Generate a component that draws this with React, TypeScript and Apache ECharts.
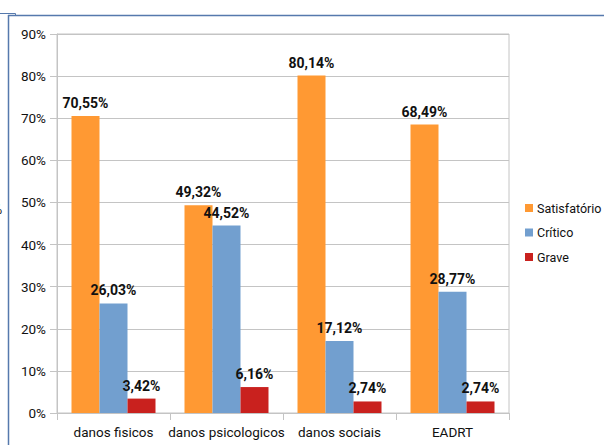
import React, { useEffect, useRef } from "react";
import * as echarts from "echarts";

const categories = ["danos fisicos", "danos psicologicos", "danos sociais", "EADRT"];
const seriesNames = ["Satisfatório", "Crítico", "Grave"];
const satisfatorio = [70.55, 49.32, 80.14, 68.49];
const critico = [26.03, 44.52, 17.12, 28.77];
const grave = [3.42, 6.16, 2.74, 2.74];
const colors = ["#ff9933", "#729fcf", "#c9211e"];
const yTicks = { min: 0, max: 90, interval: 10 };

const FONT = "Roboto, 'Liberation Sans', sans-serif";

export default function App() {
  const ref = useRef<HTMLDivElement>(null);
  useEffect(() => {
    if (!ref.current) return;
    const chart = echarts.init(ref.current, undefined, { renderer: "svg" });
    const values = [satisfatorio, critico, grave];
    const fmt = (v: number) => v.toFixed(2).replace(".", ",") + "%";
    chart.setOption({
      animation: false,
      backgroundColor: "#ffffff",
      textStyle: { fontFamily: FONT },
      grid: {
        left: 57,
        top: 34,
        width: 452,
        height: 379,
        show: true,
        borderColor: "#c4c4c4",
        borderWidth: 1,
      },
      legend: {
        orient: "vertical",
        left: 520,
        top: 195,
        padding: 5,
        itemWidth: 8,
        itemHeight: 8,
        itemGap: 8.5,
        icon: "rect",
        data: seriesNames,
        textStyle: { fontFamily: FONT, fontSize: 12.5, color: "#111", lineHeight: 16, padding: [0, 0, 0, -1] },
      },
      xAxis: {
        type: "category",
        data: categories,
        axisLine: { lineStyle: { color: "#c4c4c4", width: 1 } },
        axisTick: { show: true, length: 7, lineStyle: { color: "#c4c4c4" } },
        axisLabel: { fontFamily: FONT, fontSize: 13.5, color: "#111", margin: 12, interval: 0 },
      },
      yAxis: {
        type: "value",
        min: yTicks.min,
        max: yTicks.max,
        interval: yTicks.interval,
        axisLine: { show: true, lineStyle: { color: "#c4c4c4", width: 1 } },
        axisTick: { show: true, length: 7, lineStyle: { color: "#c4c4c4" } },
        splitLine: { lineStyle: { color: "#c4c4c4", width: 1 } },
        axisLabel: { fontFamily: FONT, fontSize: 13.5, color: "#111", margin: 11, formatter: (v: number) => v + "%" },
      },
      series: seriesNames.map((name, i) => ({
        name,
        type: "bar",
        data: values[i],
        barWidth: 28,
        barGap: "0%",
        itemStyle: { color: colors[i] },
        label: {
          show: true,
          position: "top",
          distance: 6,
          fontFamily: FONT,
          fontSize: 14,
          fontWeight: "bold",
          color: "#111",
          formatter: (p: any) => fmt(p.value),
        },
      })),
      graphic: [
        { type: "line", shape: { x1: 8, y1: 15.5, x2: 604, y2: 15.5 }, style: { stroke: "#5679ad", lineWidth: 1.5 } },
        { type: "line", shape: { x1: 8.5, y1: 15, x2: 8.5, y2: 445 }, style: { stroke: "#5679ad", lineWidth: 1.5 } },
        { type: "line", shape: { x1: 0, y1: 13.5, x2: 15.5, y2: 13.5 }, style: { stroke: "#5679ad", lineWidth: 1 } },
        { type: "line", shape: { x1: 15.5, y1: 13.5, x2: 15.5, y2: 15.5 }, style: { stroke: "#5679ad", lineWidth: 1 } },
        { type: "text", x: -8, y: 202, style: { text: "%", font: "14px " + FONT, fill: "#222" } },
      ],
    });
    return () => chart.dispose();
  }, []);
  return (
    <div
      ref={ref}
      style={{ position: "absolute", left: 0, top: 0, width: 604, height: 445 }}
    />
  );
}
